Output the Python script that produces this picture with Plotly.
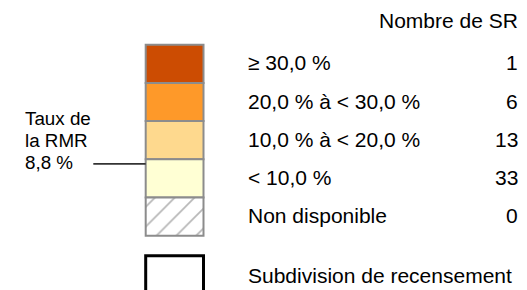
import plotly.graph_objects as go

# ---- data ----
class_labels = ["≥ 30,0 %", "20,0 % à < 30,0 %", "10,0 % à < 20,0 %", "< 10,0 %", "Non disponible"]
class_counts = [1, 6, 13, 33, 0]
class_lower = [30.0, 20.0, 10.0, 0.0, None]
class_upper = [None, 30.0, 20.0, 10.0, None]
count_header = "Nombre de SR"
boundary_label = "Subdivision de recensement"
cma_label_lines = ["Taux de", "la RMR", "8,8 %"]
cma_rate = 8.8

# ---- style / layout ----
W, H = 527, 290
PAGE_MARGIN = 8  # default body margin of the html page
FONT = "Arial, 'Liberation Sans', sans-serif"
colors = ["#cc4c02", "#fe9929", "#fed98e", "#ffffd4", "#ffffff"]
box_x0, box_x1 = 145.7, 203.5
box_top = 44.7
box_h = 38.2
label_x = 245.5
count_x = 519.5
sub_top = 255.7

fig = go.Figure()
box_cx = (box_x0 + box_x1) / 2
box_w = box_x1 - box_x0

for i, (lab, col) in enumerate(zip(class_labels, colors)):
    hatched = lab == "Non disponible"
    fig.add_trace(go.Bar(
        x=[box_cx], y=[box_h], base=[box_top + i * box_h], width=box_w,
        marker=dict(
            color=col,
            line=dict(color="#8c8c8c", width=2),
            pattern=dict(shape="/" if hatched else "", fgcolor="#6e6e6e",
                         bgcolor="#ffffff", size=14, solidity=0.12, fillmode="overlay"),
        ),
        hoverinfo="skip", showlegend=False,
    ))
    yc = box_top + (i + 0.5) * box_h
    fig.add_annotation(x=label_x, y=yc - 1, text=lab, xanchor="left", yanchor="middle",
                       showarrow=False, font=dict(size=21, color="#000", family=FONT))
    fig.add_annotation(x=count_x, y=yc - 1, text=str(class_counts[i]), xanchor="right",
                       yanchor="middle", showarrow=False,
                       font=dict(size=21, color="#000", family=FONT))

# census subdivision box
fig.add_trace(go.Bar(
    x=[box_cx], y=[80], base=[sub_top], width=box_w,
    marker=dict(color="#ffffff", line=dict(color="#000000", width=3)),
    hoverinfo="skip", showlegend=False,
))
fig.add_annotation(x=label_x, y=sub_top + 20, text=boundary_label, xanchor="left",
                   yanchor="middle", showarrow=False,
                   font=dict(size=21, color="#000", family=FONT))

fig.add_annotation(x=count_x, y=20.5, text=count_header, xanchor="right", yanchor="middle",
                   showarrow=False, font=dict(size=21, color="#000", family=FONT))

# CMA rate marker line: position on the "< 10,0 %" class box
idx = 3
rate_y = box_top + idx * box_h + (class_upper[idx] - cma_rate) / (class_upper[idx] - class_lower[idx]) * box_h
fig.add_trace(go.Scatter(
    x=[93.3, box_x0], y=[rate_y, rate_y], mode="lines",
    line=dict(color="#333333", width=1.6), hoverinfo="skip", showlegend=False,
))
for j, line in enumerate(cma_label_lines):
    fig.add_annotation(x=22.5, y=rate_y - 1 - (len(cma_label_lines) - 1 - j) * 22, text=line,
                       xanchor="left", yanchor="middle", showarrow=False,
                       font=dict(size=18.8, color="#000", family=FONT))

# the figure sits at page offset PAGE_MARGIN; map axes so data units = page pixels
fig.update_layout(
    width=W - PAGE_MARGIN, height=H - PAGE_MARGIN,
    margin=dict(l=0, r=0, t=0, b=0),
    paper_bgcolor="white", plot_bgcolor="white", barmode="overlay",
    xaxis=dict(range=[PAGE_MARGIN, W], visible=False, fixedrange=True),
    yaxis=dict(range=[H, PAGE_MARGIN], visible=False, fixedrange=True),
)
fig.write_html("out.html", config={"displayModeBar": False})
